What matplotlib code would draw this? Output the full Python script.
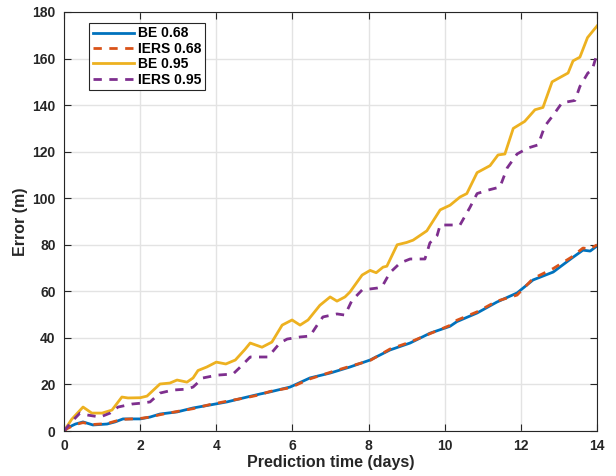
import matplotlib.pyplot as plt

# values (days, error in metres)
be68_days = [0, 0.08, 0.3, 0.5, 0.76, 1.13, 1.34, 1.55, 2.0, 2.26, 2.52, 2.97, 3.39, 3.84,
             4.28, 4.81, 5.15, 5.41, 5.94, 6.46, 6.99, 7.51, 8.04, 8.56, 9.09, 9.61, 10.14,
             10.32, 10.85, 11.37, 11.9, 12.32, 12.85, 13.34, 13.63, 13.82, 14.0]
be68 = [0, 1.3, 3, 3.9, 2.6, 3, 3.9, 5.2, 5.2, 6, 7.3, 8.2, 9.9, 11.2, 12.5, 14.6, 15.9,
        16.8, 18.9, 22.8, 24.9, 27.5, 30.5, 34.8, 37.8, 42, 45, 47, 50.7, 55.4, 59.3,
        64.9, 68.3, 74.3, 77.7, 77.3, 79.5]
iers68 = [0, 1.0, 2.8, 3.6, 2.8, 3.2, 4.2, 5.0, 5.4, 6.0, 7.0, 8.4, 9.6, 11.4, 12.8, 14.4,
          15.6, 17.0, 18.6, 22.4, 25.2, 27.8, 30.3, 35.2, 38.2, 41.8, 45.4, 47.6, 51.2,
          55.8, 58.4, 65.5, 69.8, 74.8, 78.6, 78.2, 80]

be95_days = [0, 0.2, 0.5, 0.73, 1.0, 1.26, 1.52, 1.68, 2.0, 2.18, 2.52, 2.78, 2.97, 3.23,
             3.39, 3.52, 3.75, 4.0, 4.25, 4.5, 4.75, 4.89, 5.2, 5.46, 5.73, 5.99, 6.2, 6.41,
             6.72, 6.99, 7.17, 7.38, 7.51, 7.83, 8.04, 8.2, 8.38, 8.48, 8.75, 9.0, 9.17,
             9.53, 9.88, 10.14, 10.4, 10.58, 10.85, 11.19, 11.4, 11.58, 11.8, 12.1, 12.37,
             12.58, 12.82, 13.24, 13.37, 13.55, 13.75, 13.9, 14.0]
be95 = [0, 5, 10.3, 7.7, 7.7, 9, 14.6, 14.2, 14.3, 15, 20.2, 20.6, 21.9, 21, 22.8, 26,
        27.5, 29.6, 28.8, 30.5, 35, 37.8, 36, 38.2, 45.5, 47.7, 45.5, 47.7, 54, 57.6, 55.8,
        57.6, 59.7, 67, 69, 68, 70.4, 70.8, 80, 81, 82, 86, 95, 97, 100.5, 102, 111, 114,
        118.6, 119, 130, 133, 138, 139, 150, 153.8, 159, 160.6, 169, 172, 174]

iers95_days = [0, 0.2, 0.42, 0.6, 0.95, 1.21, 1.42, 1.79, 2.05, 2.26, 2.52, 2.86, 3.23,
               3.39, 3.65, 4.02, 4.44, 4.6, 4.89, 5.36, 5.67, 5.86, 6.2, 6.46, 6.65, 6.8,
               7.17, 7.38, 7.56, 7.83, 8.22, 8.35, 8.56, 8.83, 9.09, 9.48, 9.61, 9.8, 9.88,
               10.4, 10.66, 10.85, 11.14, 11.45, 11.64, 11.9, 12.19, 12.45, 12.63, 12.85,
               13.08, 13.42, 13.55, 13.76, 13.87, 14.0]
iers95 = [0, 4, 7.7, 6.9, 6, 7.7, 10.3, 11.6, 12, 12.5, 16.3, 17.6, 18, 18.9, 22.8, 24,
          24.5, 27, 31.8, 31.8, 37.8, 39.5, 40.4, 40.8, 45.5, 49, 50.3, 49.8, 56, 60.6,
          61.4, 61.9, 68, 72.2, 73.9, 73.9, 80.8, 84, 88.5, 88.5, 96, 102, 103.5, 104.8,
          113, 119, 121.6, 122.9, 131, 135.7, 141, 142, 148, 153.8, 155, 162]

x_ticks = list(range(0, 15, 2))
y_ticks = list(range(0, 181, 20))

plt.rcParams["font.family"] = ["Liberation Sans", "DejaVu Sans"]
plt.rcParams["font.weight"] = "bold"

fig = plt.figure(figsize=(6.16, 4.76), dpi=100)
ax = fig.add_axes([0.1039, 0.0945, 0.8653, 0.8803])

lw = 2.0
ax.plot(be68_days, be68, color="#0072BD", lw=lw, label="BE 0.68")
ax.plot(be68_days, iers68, color="#D95319", lw=lw, dashes=(3, 2.7), label="IERS 0.68")
ax.plot(be95_days, be95, color="#EDB120", lw=lw, label="BE 0.95")
ax.plot(iers95_days, iers95, color="#7E2F8E", lw=lw, dashes=(3, 2.7), label="IERS 0.95")

ax.set_xlim(0, 14)
ax.set_ylim(0, 180)
ax.set_xticks(x_ticks)
ax.set_yticks(y_ticks)
ax.grid(True, color="#e3e3e3", lw=1)
ax.set_axisbelow(True)
ax.tick_params(direction="in", length=5, width=0.8, top=True, right=True,
               labelsize=10, colors="#262626")
ax.tick_params(axis="x", pad=6)
ax.tick_params(axis="y", pad=6)
for lab in ax.get_xticklabels() + ax.get_yticklabels():
    lab.set_fontweight("bold")
for s in ax.spines.values():
    s.set_color("#262626")
    s.set_linewidth(0.8)

ax.set_xlabel("Prediction time (days)", fontsize=11.5, fontweight="bold", color="#262626", labelpad=1)
ax.set_ylabel("Error (m)", fontsize=11.5, fontweight="bold", color="#262626", labelpad=3)

leg = ax.legend(loc="upper left", bbox_to_anchor=(0.047, 0.974), fancybox=False,
                edgecolor="#262626", framealpha=1, handlelength=3.0, borderpad=0.25,
                labelspacing=0.1, handletextpad=0.3, borderaxespad=0,
                prop={"weight": "bold", "size": 10})
leg.get_frame().set_linewidth(0.8)

fig.savefig("out.png", dpi=100)
